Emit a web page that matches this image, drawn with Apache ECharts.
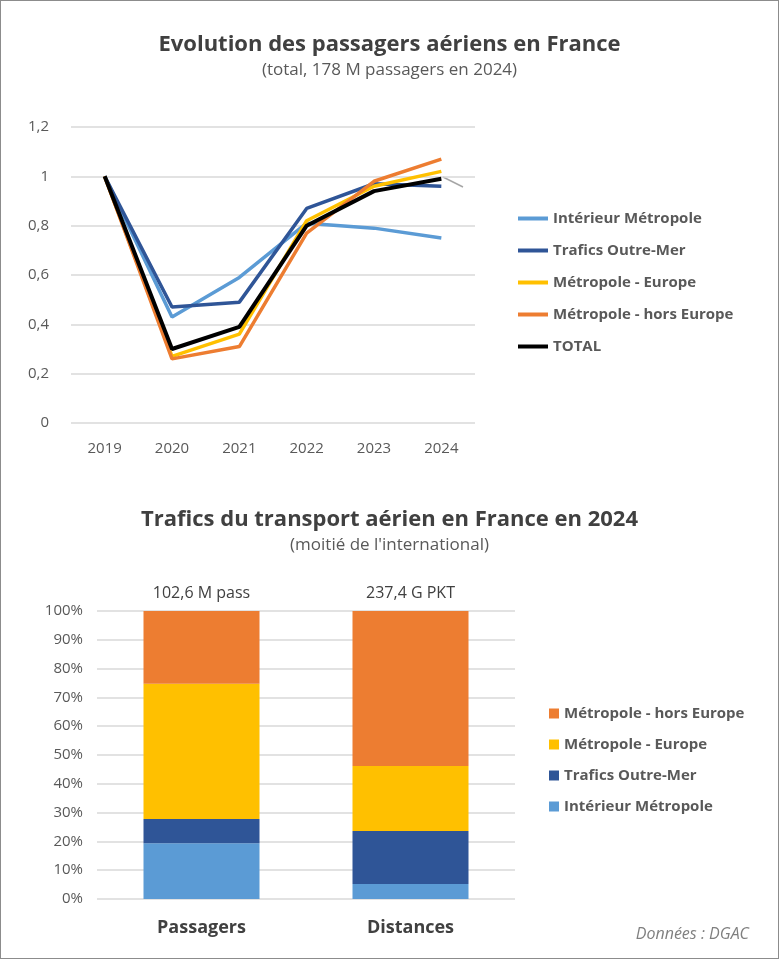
<!DOCTYPE html>
<html><head><meta charset="utf-8">
<script src="https://cdn.jsdelivr.net/npm/echarts@6/dist/echarts.min.js"></script>
<style>html,body{margin:0;padding:0;background:#fff}#c{width:777px;height:957px;border:1px solid #8c8c8c}</style>
</head><body><div id="c"></div>
<script>
var years = ['2019','2020','2021','2022','2023','2024'];
var interieur = [1, 0.43, 0.59, 0.81, 0.79, 0.75];
var outreMer = [1, 0.47, 0.49, 0.87, 0.97, 0.96];
var europe = [1, 0.27, 0.36, 0.82, 0.96, 1.02];
var horsEurope = [1, 0.26, 0.31, 0.77, 0.98, 1.07];
var total = [1, 0.30, 0.39, 0.80, 0.94, 0.99];

var barCats = ['Passagers', 'Distances'];
var barTops = ['102,6 M pass', '237,4 G PKT'];
var barInterieur = [19.4, 5.2];
var barOutreMer = [8.4, 18.4];
var barEurope = [46.9, 22.6];
var barHorsEurope = [25.3, 53.8];

var C = {int:'#5b9bd5', om:'#2f5597', eu:'#ffc000', he:'#ed7d31', tot:'#000000'};
var font = 'Open Sans';
function comma(v){ return String(v).replace('.', ','); }

// label for last point only
function withEndLabel(arr, color, lab){
  return arr.map(function(v, i){
    if(i < arr.length-1) return v;
    return {value: v, label: Object.assign({
      show: true, formatter: function(p){ return comma(p.value.toFixed ? p.value.toFixed(2) : p.value); },
      color: '#404040', fontSize: 15, fontFamily: font, backgroundColor: '#fff',
      borderColor: color, borderWidth: 2, padding: [3, 4]
    }, lab)};
  });
}

var lineSeries = [
  ['Intérieur Métropole', interieur, C.int, {position:'right', offset:[4,12]}],
  ['Trafics Outre-Mer', outreMer, C.om, {position:'bottom', offset:[8,10]}],
  ['Métropole - Europe', europe, C.eu, {position:'right', offset:[2,-14]}],
  ['Métropole - hors Europe', horsEurope, C.he, {position:'top', offset:[-8,-6]}],
  ['TOTAL', total, C.tot, {position:'right', offset:[30,10], fontWeight:'bold', color:'#000'}]
].map(function(s){
  return {name: s[0], type:'line', xAxisIndex:0, yAxisIndex:0, data: withEndLabel(s[1], s[2], s[3]),
    symbol:'none', lineStyle:{color:s[2], width: s[0]==='TOTAL'?4:3.5}, itemStyle:{color:s[2]},
    z: s[0]==='TOTAL'?5:3, labelLine:{show:false}};
});

var barSeries = [
  ['Intérieur Métropole', barInterieur, C.int],
  ['Trafics Outre-Mer', barOutreMer, C.om],
  ['Métropole - Europe', barEurope, C.eu],
  ['Métropole - hors Europe', barHorsEurope, C.he]
].map(function(s){
  return {name: s[0], type:'bar', stack:'t', xAxisIndex:1, yAxisIndex:1, data:s[1],
    barWidth:116, itemStyle:{color:s[2]}};
});

var chart = echarts.init(document.getElementById('c'));
chart.setOption({
  animation:false,
  title:[
    {text:'Evolution des passagers aériens en France', subtext:'(total, 178 M passagers en 2024)',
     left:'center', top:28, itemGap:6,
     textStyle:{fontSize:22, fontWeight:'bold', color:'#404040', fontFamily:font},
     subtextStyle:{fontSize:17, color:'#595959', fontFamily:font}},
    {text:'Trafics du transport aérien en France en 2024', subtext:"(moitié de l'international)",
     left:'center', top:503, itemGap:6,
     textStyle:{fontSize:22, fontWeight:'bold', color:'#404040', fontFamily:font},
     subtextStyle:{fontSize:17, color:'#595959', fontFamily:font}},
    {text:'Données : DGAC', right:24, top:920,
     textStyle:{fontSize:16, fontStyle:'italic', fontWeight:'normal', color:'#7f7f7f', fontFamily:font}}
  ],
  legend:[
    {data:['Intérieur Métropole','Trafics Outre-Mer','Métropole - Europe','Métropole - hors Europe','TOTAL'],
     orient:'vertical', left:512, top:205, itemGap:17, itemWidth:30, itemHeight:4, icon:'rect',
     textStyle:{fontSize:15, fontWeight:'bold', color:'#595959', fontFamily:font}},
    {data:['Métropole - hors Europe','Métropole - Europe','Trafics Outre-Mer','Intérieur Métropole'],
     orient:'vertical', left:543, top:700, itemGap:16, itemWidth:10, itemHeight:10, icon:'rect',
     textStyle:{fontSize:15, fontWeight:'bold', color:'#595959', fontFamily:font}}
  ],
  grid:[
    {left:70, width:404, top:126, height:296},
    {left:96, width:418, top:610, height:288}
  ],
  xAxis:[
    {gridIndex:0, type:'category', data:years, boundaryGap:true,
     axisLine:{show:false}, axisTick:{show:false},
     axisLabel:{fontSize:15, color:'#595959', fontFamily:font, margin:18}},
    {gridIndex:1, type:'category', data:barCats,
     axisLine:{show:false}, axisTick:{show:false},
     axisLabel:{fontSize:18, fontWeight:'bold', color:'#404040', fontFamily:font, margin:20}},
    {gridIndex:1, type:'category', data:barTops, position:'top',
     axisLine:{show:false}, axisTick:{show:false},
     axisLabel:{fontSize:16, color:'#404040', fontFamily:font, margin:10}}
  ],
  yAxis:[
    {gridIndex:0, type:'value', min:0, max:1.2, interval:0.2,
     axisLabel:{fontSize:15, color:'#595959', fontFamily:font, margin:22, formatter:function(v){return comma(Math.round(v*10)/10);}},
     splitLine:{lineStyle:{color:'#d9d9d9', width:1.5}}},
    {gridIndex:1, type:'value', min:0, max:100, interval:10,
     axisLabel:{fontSize:15, color:'#595959', fontFamily:font, margin:14, formatter:'{value}%'},
     splitLine:{lineStyle:{color:'#d9d9d9', width:1.5}}}
  ],
  graphic:[
    {type:'line', shape:{x1:442, y1:176, x2:462, y2:186}, style:{stroke:'#a6a6a6', lineWidth:1.5}}
  ],
  series: lineSeries.concat(barSeries)
});
</script></body></html>
